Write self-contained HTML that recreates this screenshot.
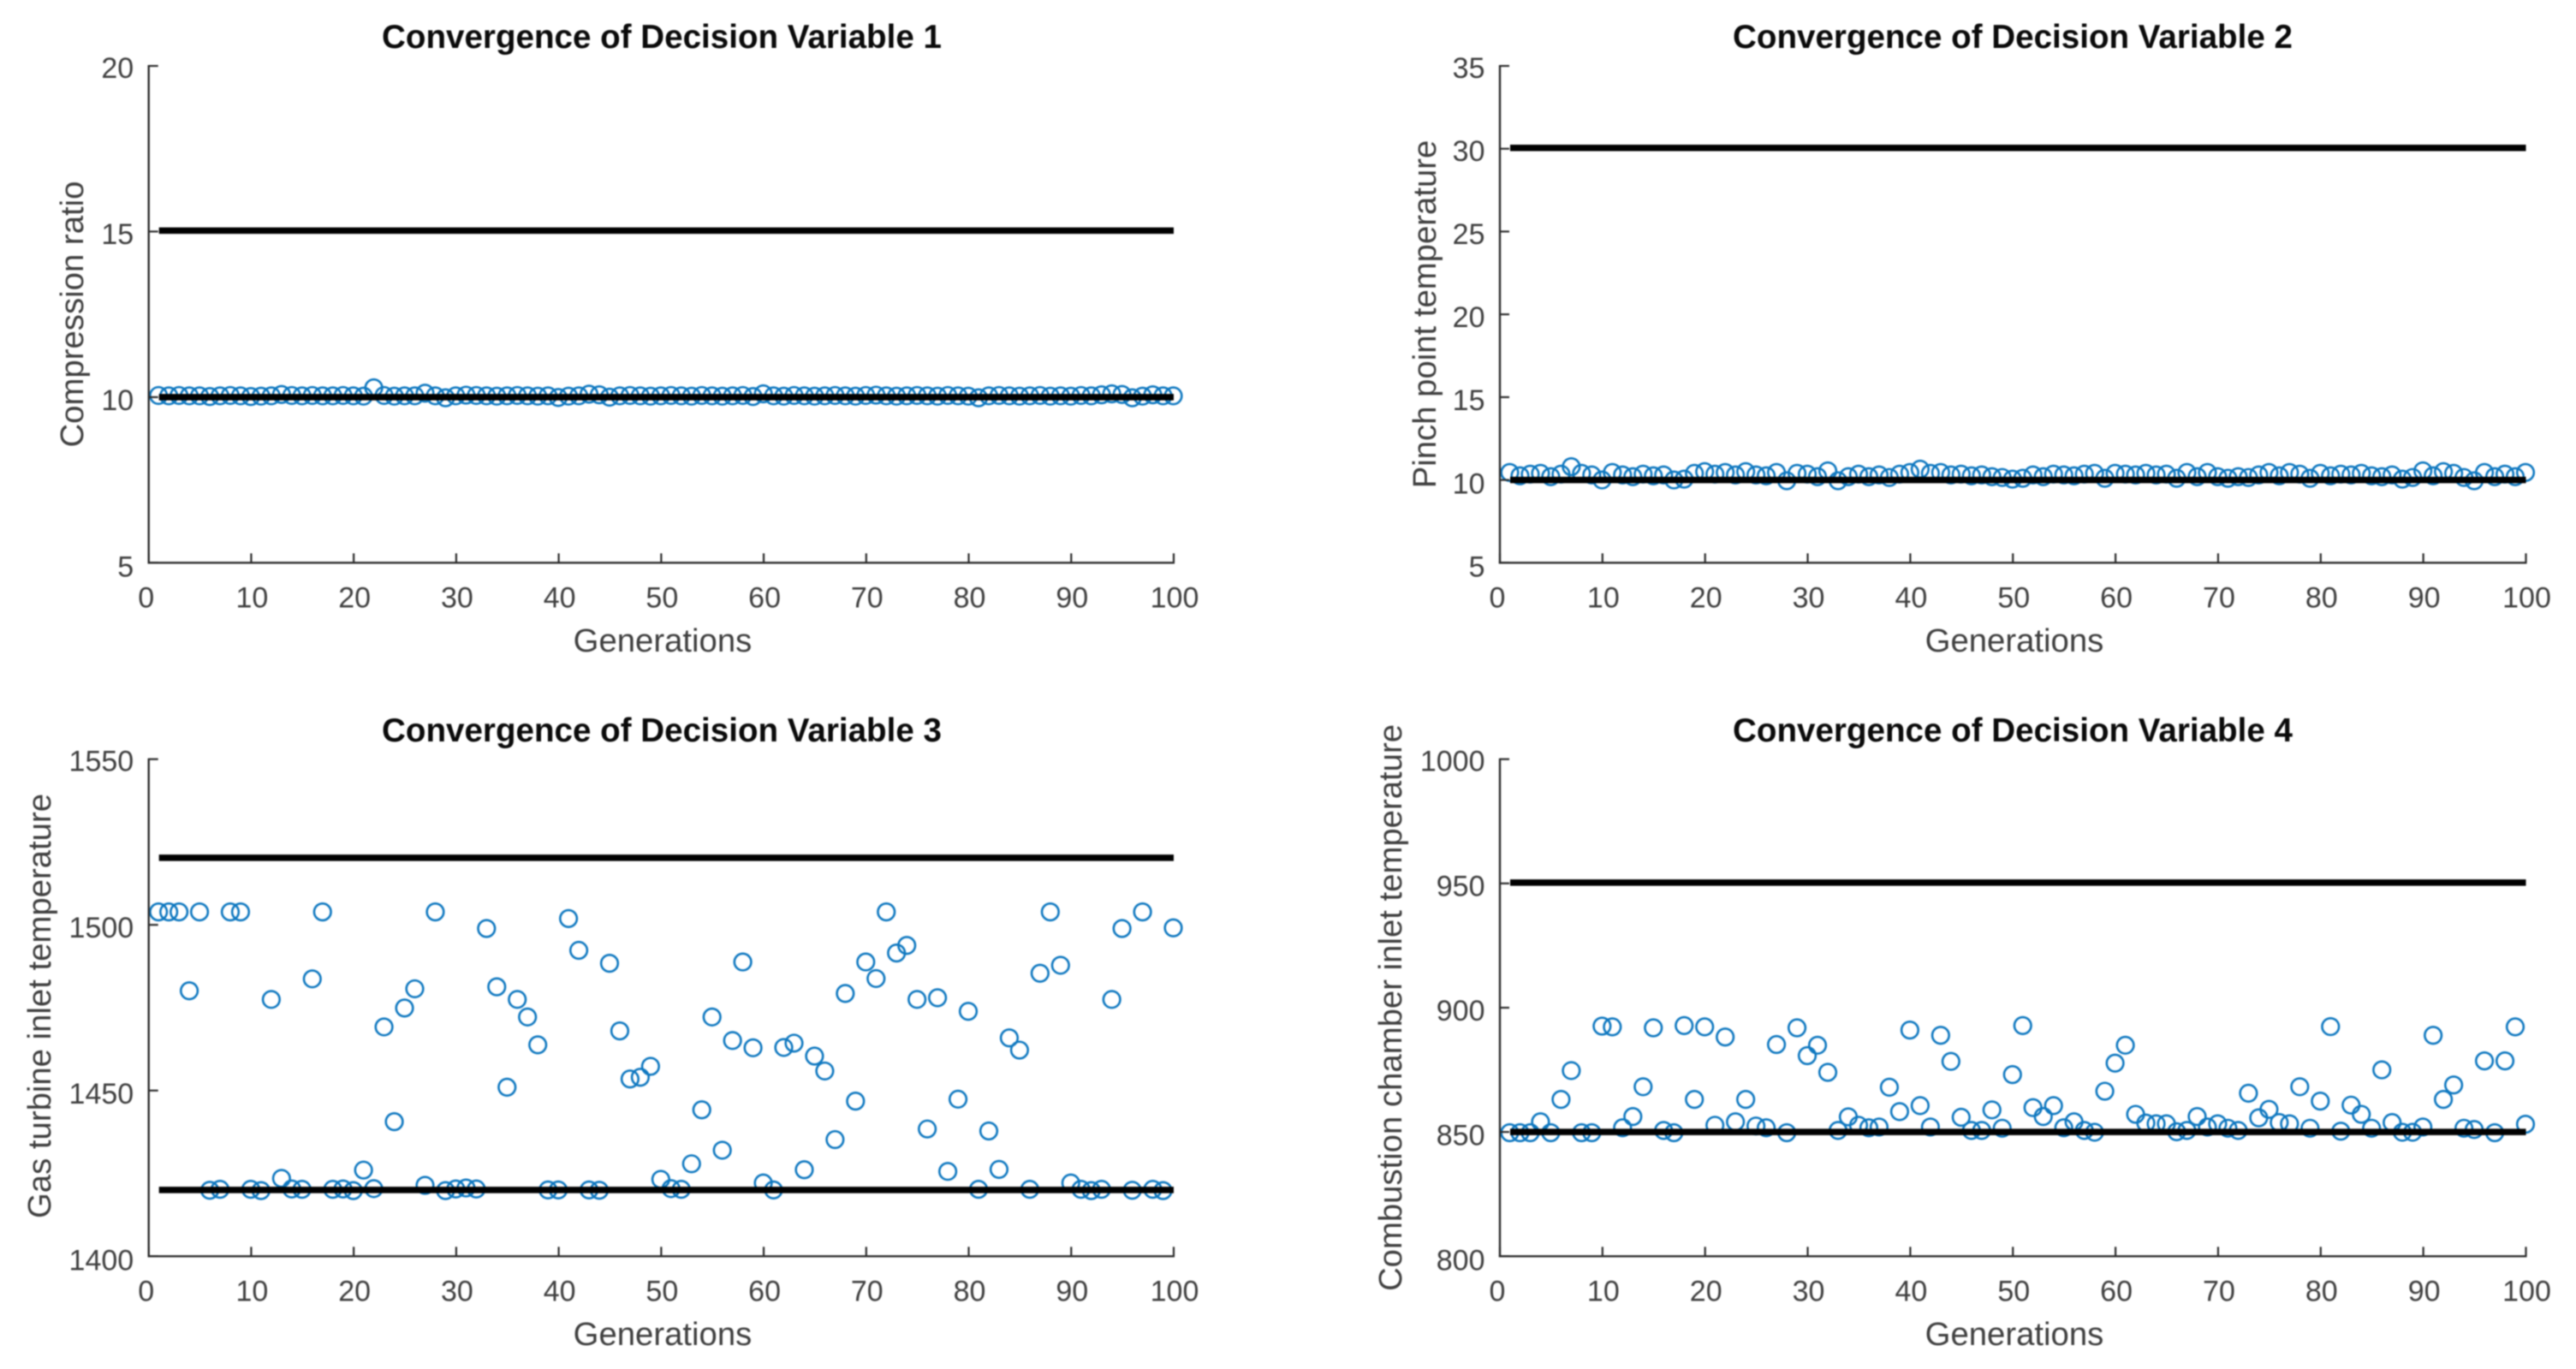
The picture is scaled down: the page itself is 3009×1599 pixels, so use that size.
<!DOCTYPE html>
<html lang="en">
<head>
<meta charset="utf-8">
<title>Convergence of Decision Variables</title>
<style>
html,body{margin:0;padding:0;background:#fff;width:3009px;height:1599px;overflow:hidden}
svg{display:block;filter:blur(0.7px)}
text{font-family:"Liberation Sans",Arial,sans-serif}
.tick{font-size:34px;fill:#3f3f3f}
.label{font-size:38.3px;fill:#3f3f3f}
.title{font-size:38.6px;font-weight:bold;fill:#0a0a0a}
</style>
</head>
<body>
<svg id="figure" xmlns="http://www.w3.org/2000/svg" width="3009" height="1599" viewBox="0 0 3009 1599">
  <rect width="3009" height="1599" fill="#fff"/>

  <g id="panel1">
    <text class="title" x="773" y="56" text-anchor="middle">Convergence of Decision Variable 1</text>
    <text class="label" x="774" y="761" text-anchor="middle">Generations</text>
    <text class="label" transform="translate(97,367) rotate(-90)" text-anchor="middle" textLength="311" lengthAdjust="spacingAndGlyphs">Compression ratio</text>
  </g>
  <g id="panel2">
    <text class="title" x="2351" y="56" text-anchor="middle">Convergence of Decision Variable 2</text>
    <text class="label" x="2353" y="761" text-anchor="middle">Generations</text>
    <text class="label" transform="translate(1677,367) rotate(-90)" text-anchor="middle">Pinch point temperature</text>
  </g>
  <g id="panel3">
    <text class="title" x="773" y="866" text-anchor="middle">Convergence of Decision Variable 3</text>
    <text class="label" x="774" y="1571" text-anchor="middle">Generations</text>
    <text class="label" transform="translate(59,1175) rotate(-90)" text-anchor="middle">Gas turbine inlet temperature</text>
  </g>
  <g id="panel4">
    <text class="title" x="2351" y="866" text-anchor="middle">Convergence of Decision Variable 4</text>
    <text class="label" x="2353" y="1571" text-anchor="middle">Generations</text>
    <text class="label" transform="translate(1637,1177) rotate(-90)" text-anchor="middle">Combustion chamber inlet temperature</text>
  </g>
</svg>

<script>
const xTicks = [0,10,20,30,40,50,60,70,80,90,100];

const yTicks1 = [5,10,15,20];
const yTicks2 = [5,10,15,20,25,30,35];
const yTicks3 = [1400,1450,1500,1550];
const yTicks4 = [800,850,900,950,1000];

const lowerBound1 = 10;
const upperBound1 = 15;
const lowerBound2 = 10;
const upperBound2 = 30;
const lowerBound3 = 1420;
const upperBound3 = 1520;
const lowerBound4 = 850;
const upperBound4 = 950;

const series1 = [
10.05,10.04,10.05,10.04,10.04,10.02,10.04,10.05,10.04,10.02,
10.03,10.04,10.08,10.05,10.04,10.05,10.04,10.04,10.05,10.04,
10.03,10.28,10.05,10.03,10.04,10.04,10.12,10.04,9.98,10.04,
10.06,10.05,10.04,10.03,10.04,10.05,10.04,10.03,10.04,9.99,
10.03,10.04,10.09,10.07,10.0,10.04,10.05,10.04,10.03,10.04,
10.05,10.04,10.03,10.05,10.04,10.03,10.04,10.05,10.02,10.10,
10.04,10.03,10.05,10.04,10.03,10.04,10.05,10.04,10.03,10.05,
10.06,10.04,10.03,10.04,10.05,10.04,10.03,10.05,10.04,10.03,
9.98,10.04,10.05,10.04,10.03,10.04,10.05,10.03,10.04,10.03,
10.05,10.04,10.07,10.10,10.08,9.98,10.03,10.07,10.04,10.04
];

const series2 = [
10.45,10.25,10.35,10.4,10.2,10.35,10.8,10.4,10.3,10.0,
10.45,10.3,10.2,10.35,10.25,10.3,10.0,10.05,10.4,10.5,
10.35,10.45,10.3,10.5,10.3,10.25,10.45,9.95,10.4,10.35,
10.2,10.55,9.95,10.2,10.35,10.2,10.3,10.15,10.35,10.45,
10.65,10.4,10.45,10.3,10.35,10.25,10.3,10.2,10.15,10.05,
10.1,10.3,10.2,10.35,10.3,10.25,10.35,10.4,10.1,10.4,
10.35,10.3,10.4,10.3,10.35,10.1,10.45,10.2,10.45,10.2,
10.1,10.2,10.15,10.3,10.45,10.25,10.45,10.35,10.1,10.4,
10.25,10.35,10.3,10.4,10.25,10.2,10.3,10.05,10.15,10.55,
10.25,10.5,10.4,10.15,9.95,10.45,10.2,10.35,10.2,10.45
];

const series3 = [
1503.9,1503.9,1503.9,1480.1,1503.9,1419.9,1420.2,1503.9,1503.9,1420.2,
1419.8,1477.5,1423.5,1420.3,1420.2,1483.7,1503.9,1420.2,1420.3,1419.8,
1426,1420.4,1469.2,1440.6,1474.9,1480.7,1421.4,1503.9,1419.8,1420.3,
1420.6,1420.3,1498.9,1481.3,1451,1477.5,1472.2,1463.8,1420,1420,
1501.9,1492.3,1420,1419.9,1488.4,1468,1453.5,1454,1457.3,1423.2,
1420.4,1420.2,1427.9,1444.2,1472.2,1432,1465.1,1488.8,1462.9,1422.1,
1420,1463,1464.3,1426.1,1460.4,1455.9,1435.2,1479.3,1446.8,1488.8,
1483.8,1503.9,1491.5,1493.8,1477.5,1438.4,1478,1425.6,1447.4,1473.9,
1420.2,1437.8,1426.2,1465.9,1462.2,1420.2,1485.4,1503.9,1487.8,1422.1,
1420.2,1419.8,1420.2,1477.5,1498.9,1419.9,1503.9,1420.2,1419.8,1499.1
];

const series4 = [
849.7,849.7,849.7,854.1,849.7,863.1,874.7,849.7,849.7,892.6,
892.3,851.7,856.2,868.2,891.9,850.6,849.7,892.8,863.1,892.3,
852.7,888.2,854.1,863.1,852.4,851.7,885.2,849.7,891.9,880.7,
884.9,874,850.6,856.1,852.7,851.7,852,868,858.2,891,
860.6,852,888.9,878.4,855.9,850.6,850.6,858.9,851.5,873.1,
892.8,859.8,856.2,860.6,851.7,854.1,850.6,849.9,866.4,877.7,
884.9,857.1,853.6,853.3,853.3,850.1,850.6,856.2,852,853.3,
851.5,850.6,865.6,855.7,859.1,853.8,853.3,868.2,851.5,862.4,
892.4,850.3,860.8,857.1,851.5,875,853.8,849.9,849.9,852,
888.9,863.1,868.9,851.5,851,878.6,849.7,878.6,892.3,853.1
];

const NS = 'http://www.w3.org/2000/svg';

function svgEl(tag, attrs, parent) {
  const el = document.createElementNS(NS, tag);
  for (const k in attrs) el.setAttribute(k, attrs[k]);
  parent.appendChild(el);
  return el;
}

function drawPanel(id, frame, yTicks, series, lower, upper) {
  const root = document.getElementById('panel' + id);
  const yMin = yTicks[0];
  const yMax = yTicks[yTicks.length - 1];
  const xMin = xTicks[0];
  const xMax = xTicks[xTicks.length - 1];
  const xScale = v => frame.left + (v - xMin) / (xMax - xMin) * (frame.right - frame.left);
  const yScale = v => frame.bottom - (v - yMin) / (yMax - yMin) * (frame.bottom - frame.top);
  const axisColor = '#2c2c2c';

  // markers
  const markers = svgEl('g', {fill: 'none', stroke: '#0f78c0', 'stroke-width': 2.6}, root);
  
  
  series.forEach((value, i) => {
    const c = svgEl('circle', {cx: xScale(i + 1) - 0.5, cy: yScale(value), r: 9.8}, markers);
    
    
  });

  // bound lines
  [['lower', lower], ['upper', upper]].forEach(pair => {
    const line = svgEl('line', {
      x1: xScale(1), x2: xScale(xMax),
      y1: yScale(pair[1]) - (pair[0] === 'upper' ? 1 : 0), y2: yScale(pair[1]) - (pair[0] === 'upper' ? 1 : 0),
      stroke: '#000', 'stroke-width': 7.5
    }, root);
    
    
  });

  // axes
  const xAxis = svgEl('line', {x1: frame.left - 1.2, x2: frame.right + 1, y1: frame.bottom, y2: frame.bottom, stroke: axisColor, 'stroke-width': 2.4}, root);
  
  
  const yAxis = svgEl('line', {x1: frame.left, x2: frame.left, y1: frame.top - 1, y2: frame.bottom + 1, stroke: axisColor, 'stroke-width': 2.4}, root);
  
  

  xTicks.forEach(t => {
    const px = xScale(t);
    const mark = svgEl('line', {x1: px, x2: px, y1: frame.bottom, y2: frame.bottom - 11, stroke: axisColor, 'stroke-width': 2.2}, root);
    
    
    const label = svgEl('text', {class: 'tick', x: px + (t === 0 ? -3 : 1), y: frame.bottom + 52, 'text-anchor': 'middle'}, root);
    
    
    label.textContent = t;
  });

  yTicks.forEach(t => {
    const py = yScale(t);
    const mark = svgEl('line', {x1: frame.left, x2: frame.left + 11, y1: py, y2: py, stroke: axisColor, 'stroke-width': 2.2}, root);
    
    
    const label = svgEl('text', {class: 'tick', x: frame.left - 17.5, y: py + 14 + 2 * (frame.bottom - py) / (frame.top - frame.bottom) + 2, 'text-anchor': 'end'}, root);
    
    
    label.textContent = t;
  });
}

const frameTopLeft = {left: 173.7, right: 1371, top: 77, bottom: 657.3};
const frameTopRight = {left: 1752, right: 2950.5, top: 77, bottom: 657.3};
const frameBottomLeft = {left: 173.7, right: 1371, top: 886.7, bottom: 1467.3};
const frameBottomRight = {left: 1752, right: 2950.5, top: 886.7, bottom: 1467.3};

drawPanel(1, frameTopLeft, yTicks1, series1, lowerBound1, upperBound1);
drawPanel(2, frameTopRight, yTicks2, series2, lowerBound2, upperBound2);
drawPanel(3, frameBottomLeft, yTicks3, series3, lowerBound3, upperBound3);
drawPanel(4, frameBottomRight, yTicks4, series4, lowerBound4, upperBound4);
</script>
</body>
</html>
